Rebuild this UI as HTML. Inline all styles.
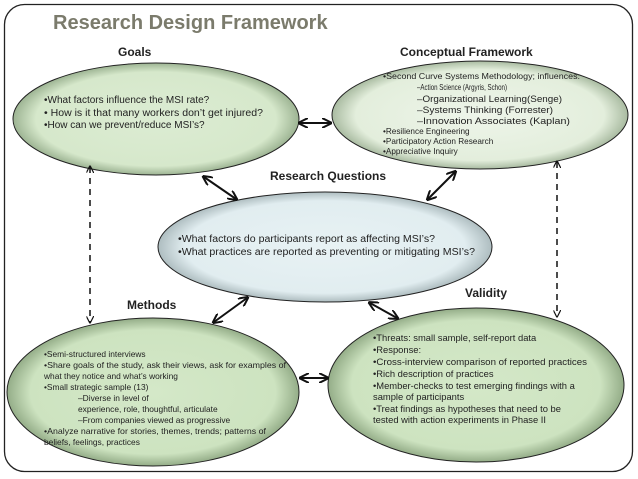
<!DOCTYPE html>
<html><head><meta charset="utf-8"><style>
html,body{margin:0;padding:0;background:#fff;}
svg{display:block;font-family:"Liberation Sans",Arial,sans-serif;}
</style></head><body>
<svg width="638" height="479" viewBox="0 0 638 479" xmlns="http://www.w3.org/2000/svg">
<defs>
<radialGradient id="g" cx="50%" cy="50%" r="50%">
<stop offset="0%" stop-color="#d4e8c8"/><stop offset="84%" stop-color="#cde3c0"/><stop offset="100%" stop-color="#94ad88"/>
</radialGradient>
<radialGradient id="gg" cx="50%" cy="50%" r="50%">
<stop offset="0%" stop-color="#dcecd3"/><stop offset="84%" stop-color="#d6e8cb"/><stop offset="100%" stop-color="#9db493"/>
</radialGradient>
<radialGradient id="gc" cx="50%" cy="50%" r="50%">
<stop offset="0%" stop-color="#eef5ea"/><stop offset="84%" stop-color="#e3eedc"/><stop offset="100%" stop-color="#a9bba1"/>
</radialGradient>
<radialGradient id="gb" cx="50%" cy="50%" r="50%">
<stop offset="0%" stop-color="#e8f2f4"/><stop offset="84%" stop-color="#e1edf0"/><stop offset="100%" stop-color="#aebdc0"/>
</radialGradient>
<marker id="a" viewBox="0 0 10 10" refX="8" refY="5" markerWidth="5" markerHeight="5" orient="auto-start-reverse"><path d="M0,0 L10,5 L0,10" fill="none" stroke="#111" stroke-width="2"/></marker>
<marker id="d" viewBox="0 0 10 10" refX="8" refY="5" markerWidth="5" markerHeight="5" orient="auto-start-reverse"><path d="M0,0 L10,5 L0,10" fill="none" stroke="#111" stroke-width="1.6"/></marker>
</defs>
<rect x="4.5" y="4.5" width="628" height="467" rx="20" fill="#fff" stroke="#222" stroke-width="1.3"/>
<text x="53" y="29" font-size="20" font-weight="bold" fill="#7b7b6c">Research Design Framework</text>

<ellipse cx="156" cy="119" rx="143" ry="56" fill="url(#gg)" stroke="#222" stroke-width="1"/>
<ellipse cx="480" cy="115" rx="148" ry="54" fill="url(#gc)" stroke="#222" stroke-width="1"/>
<ellipse cx="325" cy="247" rx="167" ry="55" fill="url(#gb)" stroke="#222" stroke-width="1"/>
<ellipse cx="153" cy="392" rx="146" ry="74" fill="url(#g)" stroke="#222" stroke-width="1"/>
<ellipse cx="476" cy="385" rx="148" ry="77" fill="url(#g)" stroke="#222" stroke-width="1"/>

<g font-size="12" font-weight="bold" fill="#222">
<text x="118" y="56">Goals</text>
<text x="400" y="56">Conceptual Framework</text>
<text x="270" y="180">Research Questions</text>
<text x="127" y="309">Methods</text>
<text x="465" y="297">Validity</text>
</g>

<g stroke="#111" stroke-width="2" marker-start="url(#a)" marker-end="url(#a)" fill="none">
<line x1="300" y1="123" x2="330" y2="123"/>
<line x1="204" y1="177" x2="236" y2="199"/>
<line x1="455" y1="172" x2="428" y2="199"/>
<line x1="247" y1="298" x2="214" y2="322"/>
<line x1="370" y1="303" x2="397" y2="318"/>
<line x1="301" y1="378" x2="327" y2="378"/>
</g>
<g stroke="#111" stroke-width="1.5" stroke-dasharray="6,5" marker-start="url(#d)" marker-end="url(#d)" fill="none">
<line x1="90" y1="167" x2="90" y2="322"/>
<line x1="557" y1="162" x2="557" y2="316"/>
</g>

<g font-size="10" fill="#222">
<text x="44" y="103">•What factors influence  the MSI rate?</text>
<text x="44" y="116" textLength="219" lengthAdjust="spacingAndGlyphs">• How is it that many workers don’t get injured?</text>
<text x="44" y="128">•How can we prevent/reduce  MSI’s?</text>
</g>
<g font-size="8.2" fill="#222">
<text x="383" y="79" textLength="197" lengthAdjust="spacingAndGlyphs">•Second Curve Systems Methodology; influences:</text>
<text x="417" y="90" font-size="8.4" textLength="90" lengthAdjust="spacingAndGlyphs">–Action Science (Argyris, Schon)</text>
<text x="383" y="134">•Resilience Engineering</text>
<text x="383" y="144">•Participatory  Action Research</text>
<text x="383" y="154">•Appreciative Inquiry</text>
</g>
<g font-size="9.5" fill="#222">
<text x="417" y="102" textLength="145" lengthAdjust="spacingAndGlyphs">–Organizational Learning(Senge)</text>
<text x="417" y="113" textLength="136" lengthAdjust="spacingAndGlyphs">–Systems Thinking (Forrester)</text>
<text x="417" y="124" textLength="153" lengthAdjust="spacingAndGlyphs">–Innovation Associates (Kaplan)</text>
</g>
<g font-size="10" fill="#222">
<text x="178" y="242" textLength="257" lengthAdjust="spacingAndGlyphs">•What factors do participants report as affecting MSI’s?</text>
<text x="178" y="255" textLength="297" lengthAdjust="spacingAndGlyphs">•What practices are reported  as preventing or mitigating MSI’s?</text>
</g>
<g font-size="8.4" fill="#222">
<text x="44" y="357">•Semi-structured interviews</text>
<text x="44" y="368" textLength="242" lengthAdjust="spacingAndGlyphs">•Share goals of the study, ask their views, ask for examples of</text>
<text x="44" y="379">what they notice and what’s working</text>
<text x="44" y="390">•Small strategic sample (13)</text>
<text x="78" y="401">–Diverse in level of</text>
<text x="78" y="412">experience, role, thoughtful, articulate</text>
<text x="78" y="423">–From companies viewed as progressive</text>
<text x="44" y="434" textLength="222" lengthAdjust="spacingAndGlyphs">•Analyze  narrative for stories, themes, trends; patterns of</text>
<text x="44" y="445">beliefs,  feelings, practices</text>
</g>
<g font-size="9.4" fill="#222">
<text x="373" y="341">•Threats: small sample, self-report data</text>
<text x="373" y="353">•Response:</text>
<text x="373" y="365" textLength="214" lengthAdjust="spacingAndGlyphs">•Cross-interview comparison of reported practices</text>
<text x="373" y="377">•Rich description of practices</text>
<text x="373" y="389">•Member-checks to test emerging findings with a</text>
<text x="373" y="400">sample of participants</text>
<text x="373" y="412">•Treat findings as hypotheses that need to be</text>
<text x="373" y="423">tested with action experiments in Phase II</text>
</g>
</svg>
</body></html>
